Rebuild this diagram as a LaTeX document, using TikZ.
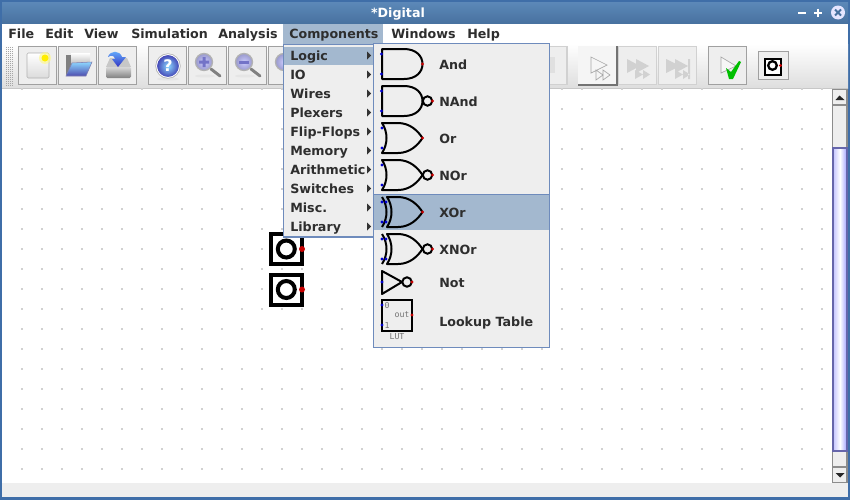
\documentclass[tikz,border=0pt]{standalone}
\usepackage{fontspec}
\setmainfont{DejaVu Sans}
\setmonofont{DejaVu Sans Mono}
\usetikzlibrary{shadings}
\definecolor{hl}{HTML}{A3B8CF}
\definecolor{menubg}{HTML}{EEEEEE}
\definecolor{menuline}{HTML}{6E8BBC}
\definecolor{titleA}{HTML}{5C88B8}
\definecolor{titleB}{HTML}{47719F}
\definecolor{frameC}{HTML}{3F6EA8}
\definecolor{btnline}{HTML}{A0A0A0}
\definecolor{inblue}{HTML}{0000D0}
\definecolor{outred}{HTML}{C80000}
\tikzset{
  x=0.75pt,y=-0.75pt,
  menutext/.style={font=\bfseries\fontsize{9.5}{11}\selectfont,text=black!82,inner sep=0pt,anchor=base west},
  sub/.style={menutext},
  gatepath/.style={draw=black,line width=1.5pt,line join=round},
  bubble/.style={draw=black,line width=1.5pt,fill=none},
  indot/.style={fill=inblue,draw=none},
  outdot/.style={fill=outred,draw=none},
  tbtn/.style={draw=btnline,line width=0.8pt,fill=menubg},
  tbtnoff/.style={draw=black!18,line width=0.8pt,fill=menubg},
  griddot/.style={fill=black!18,draw=none},
  lutlabel/.style={font=\fontsize{6.2}{7}\selectfont\ttfamily,text=black!55,inner sep=0pt},
}
\newcommand{\AndBody}[1]{% centre y
  \draw[gatepath,shift={(0,#1)}] (382,-15) -- (404,-15) .. controls (416,-15) and (422.5,-8) .. (422.5,0) .. controls (422.5,8) and (416,15) .. (404,15) -- (382,15) -- cycle;
  \fill[indot,shift={(0,#1)}] (381.5,-10) circle (1.7) (381.5,10) circle (1.7);}
\newcommand{\OrBody}[1]{%
  \draw[gatepath,shift={(0,#1)}] (382,-15) -- (398,-15) .. controls (410,-15) and (418,-7) .. (422.5,0) .. controls (418,7) and (410,15) .. (398,15) -- (382,15) .. controls (388,6) and (388,-6) .. (382,-15) -- cycle;
  \fill[indot,shift={(0,#1)}] (382,-10) circle (1.7) (382,10) circle (1.7);}
\newcommand{\XorBody}[1]{%
  \draw[gatepath,shift={(0,#1)}] (387,-15) -- (398,-15) .. controls (410,-15) and (418,-7) .. (422.5,0) .. controls (418,7) and (410,15) .. (398,15) -- (387,15) .. controls (393,6) and (393,-6) .. (387,-15) -- cycle;
  \draw[gatepath,shift={(0,#1)}] (382,-15) .. controls (388,-6) and (388,6) .. (382,15);
  \fill[indot,shift={(0,#1)}] (382,-10) circle (1.7) (386,-10) circle (1.7) (382,10) circle (1.7) (386,10) circle (1.7);}
\newcommand{\Bub}[2]{%
  \draw[bubble] (#1,#2) circle (4.7);
  \fill[outdot] (#1+5,#2) circle (1.7);}
\newcommand{\MenuArrow}[1]{\fill[black!80] (367,#1-4) -- (371,#1) -- (367,#1+4) -- cycle;}
\newcommand{\InBox}[1]{%
  \draw[draw=black,line width=3pt,fill=white] (271,#1-15) rectangle (301.5,#1+15);
  \draw[draw=black,line width=3pt] (286.3,#1) circle (8.5);
  \fill[outdot] (302,#1) circle (3);}
\begin{document}
\begin{tikzpicture}
\useasboundingbox (0,0) rectangle (850,500);
% window
\fill[frameC] (0,0) rectangle (850,500);
\shade[top color=titleA,bottom color=titleB] (2,2) rectangle (848,24);
\fill[white] (2,24) rectangle (848,44);
\shade[top color=white,bottom color=black!13] (2,44) rectangle (848,88);
\fill[black!22] (2,87.5) rectangle (848,89);
\fill[white] (2,89) rectangle (832,483);
\fill[menubg] (2,483) rectangle (848,497);
% grid
\foreach \gx in {22,42,...,822}
  \foreach \gy in {89,109,...,469}
    \fill[griddot] (\gx-1,\gy-1) rectangle (\gx+1,\gy+1);
% title
\node[font=\bfseries\fontsize{9.5}{11}\selectfont,text=white,inner sep=0pt,anchor=base] (title) at (398,17) {*Digital};
\draw[white,line width=1.5pt] (798,12.5) -- (806,12.5) (814,12.5) -- (822,12.5) (818,8.5) -- (818,16.5);
\fill[white!90!blue] (838,12.5) circle (7);
\draw[titleB,line width=1.4pt] (835,9.5) -- (841,15.5) (841,9.5) -- (835,15.5);
% menu bar
\node[menutext] (mFile) at (8,38.3) {File};
\node[menutext] (mEdit) at (45,38.3) {Edit};
\node[menutext] (mView) at (84,38.3) {View};
\node[menutext] (mSim) at (131,38.3) {Simulation};
\node[menutext] (mAna) at (218,38.3) {Analysis};
\fill[hl] (283,24) rectangle (383,44);
\node[menutext] (mComp) at (289,38.3) {Components};
\node[menutext] (mWin) at (391,38.3) {Windows};
\node[menutext] (mHelp) at (467,38.3) {Help};
% grip
\foreach \gx in {6,8,...,13}
  \foreach \gy in {47,49,...,85}
    \fill[black!35] (\gx,\gy) rectangle (\gx+0.9,\gy+0.9);
% toolbar buttons
\foreach \bx in {18,58,98,148,188,228,268}
  \draw[tbtn] (\bx+0.5,46.5) rectangle (\bx+38.5,84.5);
% new
\shade[top color=white,bottom color=black!14,draw=black!30,rounded corners=1pt] (27,53) rectangle (49,78);
\fill[yellow!50,opacity=.6] (45,58) circle (6);
\fill[yellow!95!orange] (45,58) circle (3.5);
% open
\fill[black!50] (66,55) -- (74,55) -- (74,62) -- (72,75) -- (66,75) -- cycle;
\shade[top color=white,bottom color=black!25] (71,53) rectangle (90,64);
\shade[top color=blue!35!cyan!45!white,bottom color=blue!55!black!70,draw=blue!40!black!50] (72,63) -- (92,62) -- (86,76) -- (66,76) -- cycle;
% save
\shade[top color=black!15,bottom color=black!50,rounded corners=1pt] (106,67) rectangle (131,78);
\fill[black!22] (110,58) -- (127,58) -- (131,67) -- (106,67) -- cycle;
\shade[top color=blue!50!cyan!60!white,bottom color=blue!70!black!80] (108,57) .. controls (110,50) and (120,50) .. (122,57) -- (126,57) -- (118,67) -- (112,59) -- (115,59) .. controls (114,55) and (111,55) .. (108,57) -- cycle;
% help
\fill[black!10] (168,79) ellipse (11 and 1.5);
\shade[inner color=blue!35!cyan!45!white,outer color=blue!60!black!75,draw=white,line width=0.8pt] (168,66) circle (11.5);
\draw[black!30,line width=.5pt] (168,66) circle (12.3);
\node[font=\bfseries\fontsize{12}{14}\selectfont,text=white,inner sep=0pt] (helpq) at (168,66) {?};
% zoom in
\fill[black!10] (205,76) ellipse (10 and 1.5);
\draw[black!50,line width=2.2pt,line cap=round] (211,69) -- (220,76);
\shade[inner color=blue!20!white,outer color=blue!50!black!40,draw=black!30,line width=1pt] (204,62) circle (8.5);
\fill[blue!60!black!55] (199,60.5) rectangle (209,63.5) (202.5,57) rectangle (205.5,67);
% zoom out
\fill[black!10] (245,76) ellipse (10 and 1.5);
\draw[black!50,line width=2.2pt,line cap=round] (251,69) -- (260,76);
\shade[inner color=blue!20!white,outer color=blue!50!black!40,draw=black!30,line width=1pt] (244,62) circle (8.5);
\fill[blue!60!black!55] (239,60.5) rectangle (249,63.5);
% fit fragment
\shade[inner color=blue!20!white,outer color=blue!50!black!40,draw=black!30,line width=1pt] (284,62) circle (8.5);
% right-hand toolbar
\draw[tbtnoff] (530,46.5) rectangle (567,84.5);
\fill[black!12] (540,57) rectangle (555,73);
\fill[black!4] (578,46) rectangle (617,85);
\draw[black!55,line width=0.8pt] (578,85) -- (617,85) -- (617,46);
\draw[black!35,line width=.5pt] (591,57) -- (607,65) -- (591,73) -- cycle (596,70) -- (603,75) -- (596,80) -- cycle (603,70) -- (610,75) -- (603,80) -- cycle;
\draw[tbtnoff] (618.5,46.5) rectangle (656.5,84.5);
\draw[tbtnoff] (658.5,46.5) rectangle (696.5,84.5);
\fill[black!18] (627,59) -- (640,66) -- (627,73) -- cycle (636,59) -- (649,66) -- (636,73) -- cycle (635,70) -- (643,74.5) -- (635,79) -- cycle (643,70) -- (650,74.5) -- (643,79) -- cycle;
\fill[black!18] (666,59) -- (680,66) -- (666,73) -- cycle (675,59) -- (688,66) -- (675,73) -- cycle (675,70) -- (683,74.5) -- (675,79) -- cycle (683,70) -- (690,74.5) -- (683,79) -- cycle (688,59) rectangle (690,79);
\draw[tbtn] (708.5,46.5) rectangle (746.5,84.5);
\draw[black!35,line width=.5pt,fill=black!3] (721,57) -- (736,66) -- (721,73) -- cycle;
\fill[green!75!black] (726,68) -- (731,72) -- (739,61) -- (741,62) -- (733,79) -- (729,79) -- cycle;
\draw[tbtn,fill=menubg] (758.5,51.5) rectangle (788.5,79.5);
\draw[black,line width=1.8pt,fill=white] (765,59) rectangle (781,75);
\draw[black,line width=1.7pt] (772.5,65.5) circle (4.3);
\fill[outred] (780.5,65.5) circle (1.6);
% scrollbar
\fill[menubg] (832,89) rectangle (847,483);
\draw[black!45,line width=.8pt] (832.5,89.5) rectangle (847,482.5);
\draw[black!45,line width=.8pt,fill=menubg] (832.5,89.5) rectangle (847,105);
\fill[black!85] (835.5,100) -- (839.5,95.5) -- (844.5,100) -- cycle;
\draw[black!45,line width=.8pt,fill=menubg] (832.5,467) rectangle (847,482.5);
\fill[black!85] (835.5,473) -- (844.5,473) -- (840,477.5) -- cycle;
\shade[left color=blue!22!white,right color=blue!35!white,middle color=white] (833.5,148) rectangle (846.5,451);
\draw[blue!45!black!60,line width=.8pt] (833,148) rectangle (847,451);
% canvas inputs
\InBox{249}
\InBox{289.5}
% first popup
\draw[menuline,line width=.8pt,fill=menubg] (283.5,44.5) rectangle (374,237);
\fill[hl] (284,47) rectangle (373,65);
\foreach \nm/\yy/\tx in {a/55.5/Logic,b/74.5/IO,c/93.5/Wires,d/112.5/Plexers,e/131.5/Flip-Flops,f/150.5/Memory,g/169.5/Arithmetic,h/188.5/Switches,i/207.5/Misc.,j/226.5/Library}{
  \node[sub] (p\nm) at (290,\yy+4.7) {\tx};
  \MenuArrow{\yy}
}
% second popup
\draw[menuline,line width=.8pt,fill=menubg] (373.5,43.5) rectangle (549.5,347.5);
\fill[hl] (374,195) rectangle (549,230);
\draw[menuline,line width=.8pt] (374,194.5) -- (549,194.5);
\AndBody{64}
\fill[outdot] (422.5,64) circle (1.7);
\AndBody{101}
\Bub{427.5}{101}
\OrBody{138}
\fill[outdot] (422.5,138) circle (1.7);
\OrBody{175}
\Bub{427.5}{175}
\XorBody{212}
\fill[outdot] (422.5,212) circle (1.7);
\XorBody{249}
\Bub{427.5}{249}
\draw[gatepath] (382,271) -- (402,282) -- (382,294) -- cycle;
\fill[indot] (382,282) circle (1.7);
\Bub{407}{282}
\draw[black,line width=1.5pt] (382,300) rectangle (412,331);
\fill[indot] (382,305) circle (1.7) (382,325) circle (1.7);
\fill[outdot] (412,315) circle (1.7);
\node[lutlabel] (lut0) at (387,305) {0};
\node[lutlabel] (lut1) at (387,325) {1};
\node[lutlabel] (lutout) at (402,315) {out};
\node[lutlabel] (lutname) at (397,336.5) {LUT};
\foreach \nm/\yy/\tx in {a/69/And,b/106/NAnd,c/143/Or,d/180/NOr,e/217/XOr,f/254/XNOr,g/287/Not,h/326.5/Lookup Table}
  \node[sub] (s\nm) at (439,\yy) {\tx};
\end{tikzpicture}
\end{document}
